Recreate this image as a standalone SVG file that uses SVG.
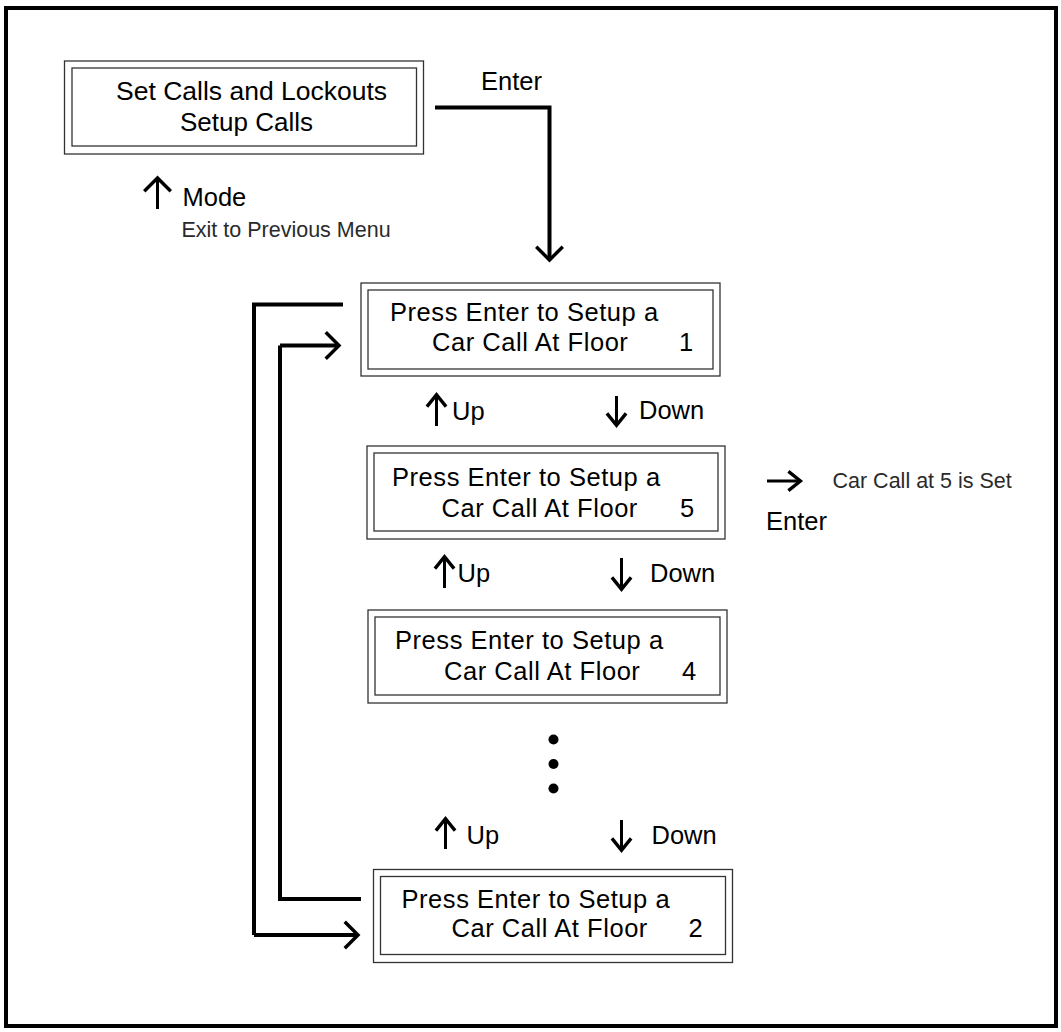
<svg xmlns="http://www.w3.org/2000/svg" width="1061" height="1032" viewBox="0 0 1061 1032">
<style>
.frame{fill:none;stroke:#000;stroke-width:4}
.box{fill:#fff;stroke:#333;stroke-width:1.3}
.t{font-family:"Liberation Sans",Arial,sans-serif;fill:#000}
.bt{font-size:25.5px;letter-spacing:0.55px}
.num{font-size:25.5px}
.lbl{font-size:25.5px}
.thin{font-size:21.5px;fill:#2a2a2a}
.conn{fill:none;stroke:#000;stroke-width:4;marker-end:url(#ah)}
.conn0{fill:none;stroke:#000;stroke-width:4}
.sym{fill:none;stroke:#000;stroke-width:3;marker-end:url(#sh)}
</style>
<defs>
<marker id="ah" markerUnits="userSpaceOnUse" markerWidth="30" markerHeight="30" viewBox="0 0 26 26" refX="13" refY="13" orient="auto"><path d="M1.5,1.5 L13,13 L1.5,24.5" fill="none" stroke="#000" stroke-width="3"/></marker>
<marker id="sh" markerUnits="userSpaceOnUse" markerWidth="24" markerHeight="24" viewBox="0 0 20 20" refX="11.5" refY="10" orient="auto"><path d="M1,2 L11,10 L1,18" fill="none" stroke="#000" stroke-width="2.8"/></marker>
</defs>
<rect width="1061" height="1032" fill="#fff"/>
<rect class="frame" x="6" y="8" width="1050" height="1018"/>

<g id="menu-set-calls">
<rect class="box" x="64.5" y="61" width="359" height="93"/>
<rect class="box" x="72" y="68" width="344.5" height="78"/>
<text class="t" x="116" y="99.5" font-size="26.5">Set Calls and Lockouts</text>
<text class="t" x="180" y="131" font-size="26">Setup Calls</text>
</g>

<g id="floor-1">
<rect class="box" x="361" y="283" width="359" height="93"/>
<rect class="box" x="368" y="290" width="345" height="79"/>
<text class="t bt" x="390" y="321">Press Enter to Setup a</text>
<text class="t bt" x="432" y="350.5">Car Call At Floor</text>
<text class="t num" x="679" y="350.5">1</text>
</g>

<g id="floor-5">
<rect class="box" x="367" y="446" width="358" height="93"/>
<rect class="box" x="374" y="453" width="344" height="78"/>
<text class="t bt" x="392" y="485.5">Press Enter to Setup a</text>
<text class="t bt" x="441.5" y="516.5">Car Call At Floor</text>
<text class="t num" x="680" y="516.5">5</text>
</g>

<g id="floor-4">
<rect class="box" x="368" y="610" width="359" height="93"/>
<rect class="box" x="375" y="617" width="345" height="78"/>
<text class="t bt" x="395" y="648.5">Press Enter to Setup a</text>
<text class="t bt" x="444" y="679.5">Car Call At Floor</text>
<text class="t num" x="682" y="679.5">4</text>
</g>

<g id="floor-2">
<rect class="box" x="373.5" y="869.5" width="359" height="93"/>
<rect class="box" x="380.5" y="876.5" width="345" height="78"/>
<text class="t bt" x="401.5" y="907.5">Press Enter to Setup a</text>
<text class="t bt" x="451.5" y="937">Car Call At Floor</text>
<text class="t num" x="688.5" y="937">2</text>
</g>

<g id="connectors">
<path class="conn" d="M435,107.5 H549.5 V260"/>
<path class="conn0" d="M343,304.5 H254 V935"/>
<path class="conn" d="M254,935 H358"/>
<path class="conn0" d="M361,899 H280 V345.5"/>
<path class="conn" d="M280,345.5 H339"/>
</g>

<g id="mode-label">
<path class="sym" d="M157.5,209 V178" style="marker-end:url(#ah)"/>
<text class="t lbl" x="182.5" y="205.5" font-size="25">Mode</text>
<text class="t thin" x="181.5" y="236.5">Exit to Previous Menu</text>
</g>

<g id="enter-label">
<text class="t lbl" x="481" y="89.5">Enter</text>
</g>

<g id="keys-row-1">
<path class="sym" d="M436.5,426 V394"/>
<text class="t lbl" x="452" y="419.5">Up</text>
<path class="sym" d="M616.5,396 V426"/>
<text class="t lbl" x="639" y="419">Down</text>
</g>

<g id="keys-row-2">
<path class="sym" d="M444.5,588 V556"/>
<text class="t lbl" x="457.5" y="581.5">Up</text>
<path class="sym" d="M621.5,558 V590"/>
<text class="t lbl" x="650" y="581.5">Down</text>
</g>

<g id="keys-row-3">
<path class="sym" d="M445.5,849 V818"/>
<text class="t lbl" x="466.5" y="843.5">Up</text>
<path class="sym" d="M621.5,820 V851"/>
<text class="t lbl" x="651.5" y="843.5">Down</text>
</g>

<g id="set-note">
<path class="sym" d="M767,481 H801"/>
<text class="t thin" x="832.5" y="488" font-size="22">Car Call at 5 is Set</text>
<text class="t lbl" x="766" y="529.5">Enter</text>
</g>

<g id="ellipsis">
<circle cx="553.5" cy="739.5" r="5"/>
<circle cx="553.5" cy="764" r="5"/>
<circle cx="553.5" cy="788.5" r="5"/>
</g>
</svg>
